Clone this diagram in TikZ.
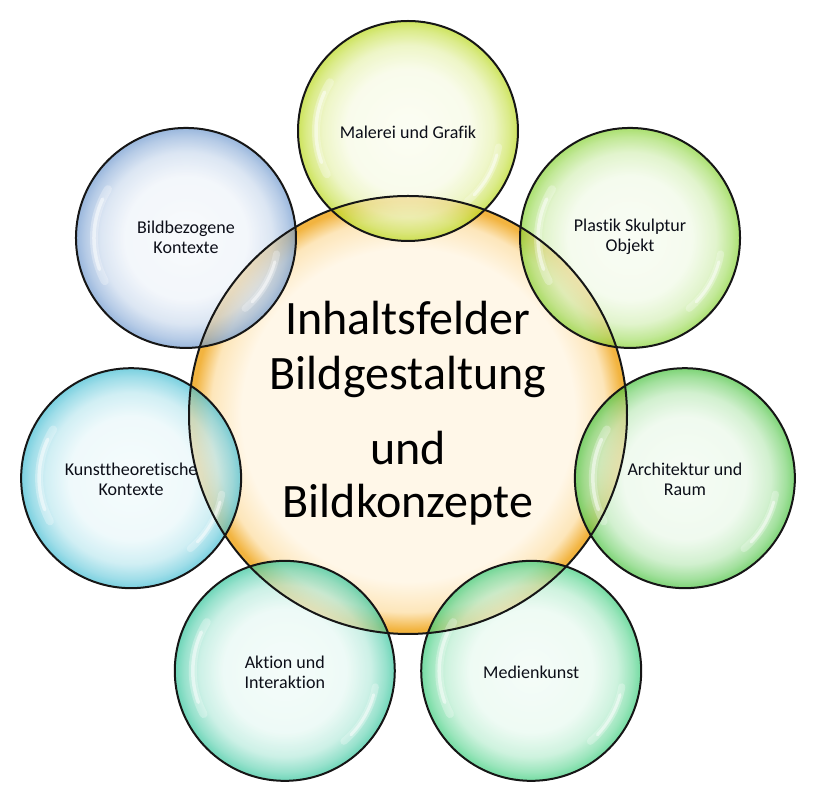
\documentclass[tikz,border=0pt]{standalone}
\usepackage{fontspec}
\setmainfont{Carlito}[Ligatures=NoCommon]
\usetikzlibrary{calc}
\definecolor{bordcol}{HTML}{161616}
\definecolor{txtcol}{HTML}{0C0E18}
\definecolor{corein}{HTML}{FFF7E8}
\definecolor{coremid}{HTML}{FDE6BA}
\definecolor{coreedge}{HTML}{F2B440}
\definecolor{cMal}{HTML}{B8D818}
\definecolor{cPla}{HTML}{86D232}
\definecolor{cArc}{HTML}{46C23C}
\definecolor{cMed}{HTML}{38CC7A}
\definecolor{cAkt}{HTML}{30C49A}
\definecolor{cKun}{HTML}{40BCD2}
\definecolor{cBil}{HTML}{6E98CE}
\colorlet{bubcol}{cMal}
\pgfdeclareradialshading[bubcol]{bubble}{\pgfpoint{0bp}{0bp}}{%
 color(0bp)=(bubcol!7!white); color(14bp)=(bubcol!12!white); color(19.5bp)=(bubcol!35!white); color(23bp)=(bubcol!72!white); color(25bp)=(bubcol); color(50bp)=(bubcol)}
\pgfdeclareradialshading{core}{\pgfpoint{0bp}{0bp}}{%
 color(0bp)=(corein); color(19bp)=(corein); color(22.5bp)=(coremid); color(24.5bp)=(coreedge); color(25bp)=(coreedge); color(50bp)=(coreedge)}
\begin{document}
\begin{tikzpicture}[x=1pt,y=1pt,
  bub/.style={circle, minimum size=220pt, inner sep=0pt, /utils/exec={\colorlet{bubcol}{#1}}, shade, shading=bubble, fill opacity=0.7},
  ring/.style={circle, minimum size=#1, inner sep=0pt, draw=bordcol, line width=2pt},
  lbl/.style={font=\fontsize{18}{20}\selectfont, text=txtcol, align=center},
  big/.style={font=\fontsize{48}{52}\selectfont, text=black, anchor=base},
  gloss/.style={white, line cap=round}]
\useasboundingbox (0,0) rectangle (820,800);
\coordinate (C) at (408,385);
\node[circle, minimum size=438pt, inner sep=0pt, shade, shading=core] (core) at (C) {};
\foreach \name/\ang/\col in {m1/90/cMal, m2/38.571/cPla, m3/-12.857/cArc, m4/-64.286/cMed, m5/-115.714/cAkt, m6/-167.143/cKun, m7/141.429/cBil}{
  \node[bub=\col] (\name) at ($(C)+(\ang:284)$) {};
  \draw[gloss, line width=8pt, opacity=0.28] ($(\name)+(148:92)$) arc (148:208:92);
  \draw[gloss, line width=3.5pt, opacity=0.5] ($(\name)+(155:92)$) arc (155:200:92);
  \draw[gloss, line width=7pt, opacity=0.28] ($(\name)+(-10:92)$) arc (-10:-50:92);
  \draw[gloss, line width=3pt, opacity=0.5] ($(\name)+(-15:92)$) arc (-15:-44:92);
}
\node[ring=438pt] (coreRing) at (core) {};
\foreach \name in {m1,m2,m3,m4,m5,m6,m7}{
  \node[ring=220pt] (\name r) at (\name) {};
}
\node[big] (h1) at (408,465) {Inhaltsfelder};
\node[big] (h2) at (408,410) {Bildgestaltung};
\node[big] (h3) at (408,335) {und};
\node[big] (h4) at (408,282) {Bildkonzepte};
\node[lbl] (t1) at ([yshift=-1pt]m1) {Malerei und Grafik};
\node[lbl] (t2) at ([yshift=1pt]m2) {Plastik Skulptur\\Objekt};
\node[lbl] (t3) at ([yshift=-1pt]m3) {Architektur und\\Raum};
\node[lbl] (t4) at ([yshift=-1pt]m4) {Medienkunst};
\node[lbl] (t5) at ([yshift=-1pt]m5) {Aktion und\\Interaktion};
\node[lbl] (t6) at ([yshift=-1pt]m6) {Kunsttheoretische\\Kontexte};
\node[lbl] (t7) at ([yshift=1pt]m7) {Bildbezogene\\Kontexte};
\end{tikzpicture}
\end{document}
